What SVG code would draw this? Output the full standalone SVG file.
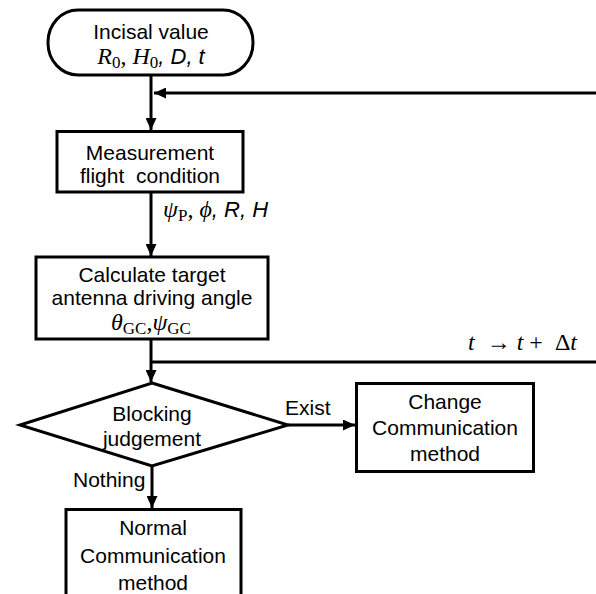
<svg xmlns="http://www.w3.org/2000/svg" width="596" height="594" viewBox="0 0 596 594">
<defs>
<style>
.box{fill:#fff;stroke:#000;stroke-width:3}
.ln{fill:none;stroke:#000;stroke-width:3}
text{font-family:"Liberation Sans",Arial,sans-serif;font-size:21px;fill:#000}
.c{text-anchor:middle}
.mi{font-family:"Liberation Serif","DejaVu Serif",serif;font-style:italic;font-size:24px}
.mr{font-family:"Liberation Serif","DejaVu Serif",serif;font-size:24px}
.sub{font-family:"Liberation Serif","DejaVu Serif",serif;font-size:17px}
.si{font-style:italic;font-size:22px}
</style>
<marker id="ah" markerUnits="userSpaceOnUse" markerWidth="12" markerHeight="11" refX="12" refY="5.5" orient="auto">
<path d="M0,0 L12,5.5 L0,11 z" fill="#000"/>
</marker>
</defs>
<rect width="596" height="594" fill="#fff"/>
<g id="connectors">
<line class="ln" x1="151" y1="75" x2="151" y2="130" marker-end="url(#ah)"/>
<line class="ln" x1="596" y1="93" x2="154" y2="93" marker-end="url(#ah)"/>
<line class="ln" x1="151" y1="192" x2="151" y2="256" marker-end="url(#ah)"/>
<line class="ln" x1="151" y1="339" x2="151" y2="382" marker-end="url(#ah)"/>
<line class="ln" x1="151" y1="362" x2="596" y2="362"/>
<line class="ln" x1="288" y1="425" x2="355" y2="425" marker-end="url(#ah)"/>
<line class="ln" x1="152" y1="466" x2="152" y2="508" marker-end="url(#ah)"/>
<text x="468" y="350" xml:space="preserve"><tspan class="mi">t</tspan><tspan class="mr">  → </tspan><tspan class="mi">t</tspan><tspan class="mr"> +  Δ</tspan><tspan class="mi">t</tspan></text>
<text x="163" y="217"><tspan class="mi">ψ</tspan><tspan class="sub" dy="4">P</tspan><tspan class="mr" dy="-4">, </tspan><tspan class="mi">ϕ</tspan><tspan class="si">, R, H</tspan></text>
<text x="285" y="415">Exist</text>
<text x="73" y="487">Nothing</text>
</g>
<g id="start">
<rect class="box" x="48" y="10" width="205" height="65" rx="30" ry="32"/>
<text class="c" x="151" y="39">Incisal value</text>
<text class="c" x="151" y="64"><tspan class="mi">R</tspan><tspan class="sub" dy="4">0</tspan><tspan class="mr" dy="-4">, </tspan><tspan class="mi">H</tspan><tspan class="sub" dy="4">0</tspan><tspan class="si" dy="-4">, D, t</tspan></text>
</g>
<g id="measure">
<rect class="box" x="57" y="131.5" width="186" height="60.5"/>
<text class="c" x="150" y="160">Measurement</text>
<text class="c" x="150" y="183" xml:space="preserve">flight  condition</text>
</g>
<g id="calc">
<rect class="box" x="36" y="257" width="232" height="82"/>
<text class="c" x="152" y="282">Calculate target</text>
<text class="c" x="152" y="305">antenna driving angle</text>
<text class="c" x="151" y="330" font-size="22"><tspan class="mi" font-size="22">θ</tspan><tspan class="sub" dy="4">GC</tspan><tspan class="mr" dy="-4" font-size="22">,</tspan><tspan class="mi" font-size="22">ψ</tspan><tspan class="sub" dy="4">GC</tspan></text>
</g>
<g id="blocking">
<polygon class="box" points="152,383 288,425 152,466 20,425"/>
<text class="c" x="152" y="421">Blocking</text>
<text class="c" x="152" y="446">judgement</text>
</g>
<g id="change">
<rect class="box" x="356.5" y="383.5" width="177" height="88"/>
<text class="c" x="445" y="409">Change</text>
<text class="c" x="445" y="435">Communication</text>
<text class="c" x="445" y="461">method</text>
</g>
<g id="normal">
<rect class="box" x="66" y="509.5" width="175" height="100"/>
<text class="c" x="153" y="535">Normal</text>
<text class="c" x="153" y="563">Communication</text>
<text class="c" x="153" y="590">method</text>
</g>
</svg>
